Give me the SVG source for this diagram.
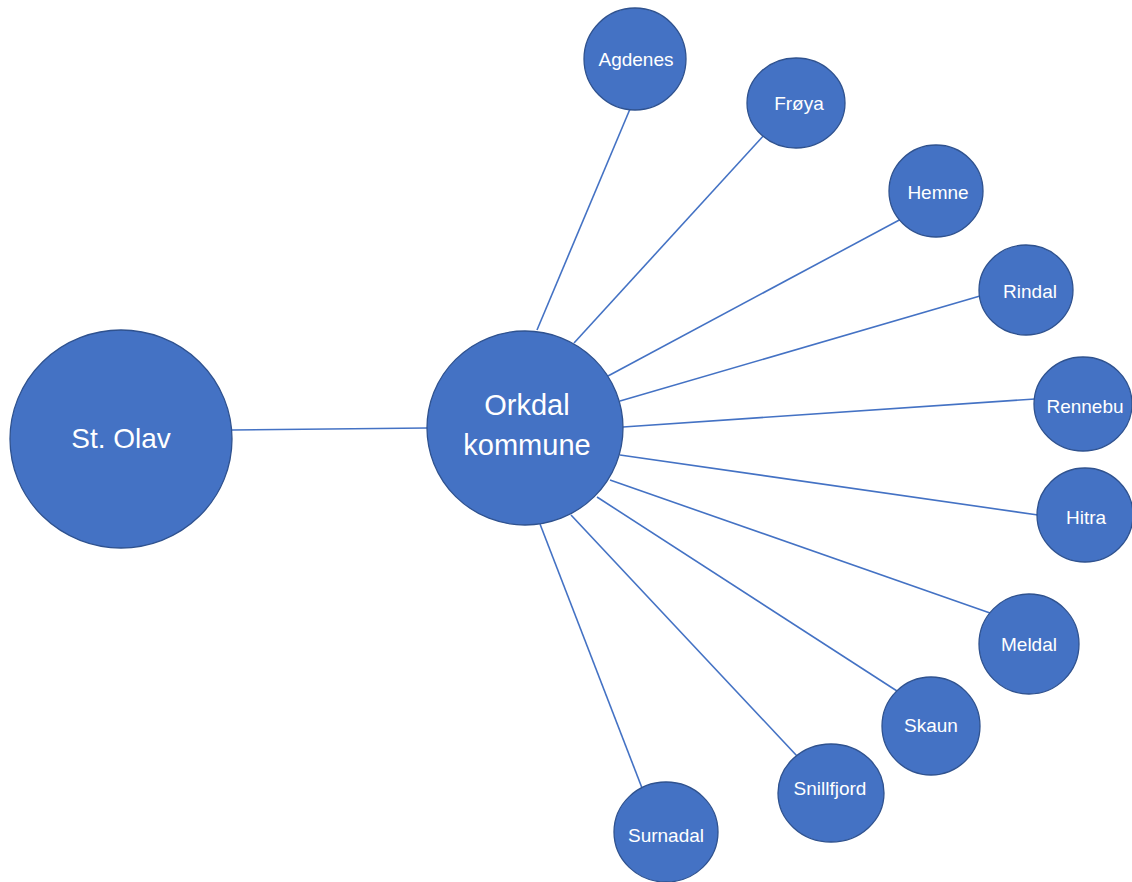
<svg xmlns="http://www.w3.org/2000/svg" width="1132" height="882" viewBox="0 0 1132 882">
<style>
.n{fill:#4472C4;stroke:#2F528F;stroke-width:1.3}
.t{fill:#ffffff;font-family:"Liberation Sans",Arial,sans-serif;text-anchor:middle}
.s{font-size:19px}
.b{font-size:28px}
.e{stroke:#4472C4;stroke-width:1.6;fill:none}
</style>
<rect width="1132" height="882" fill="#ffffff"/>
<g id="connectors">
<line class="e" x1="232" y1="430" x2="427" y2="428"/>
<line class="e" x1="537" y1="330" x2="630" y2="109"/>
<line class="e" x1="574" y1="343" x2="765" y2="134"/>
<line class="e" x1="608" y1="376" x2="903" y2="218"/>
<line class="e" x1="620" y1="401" x2="980" y2="296"/>
<line class="e" x1="623" y1="427" x2="1035" y2="399"/>
<line class="e" x1="620" y1="455" x2="1038" y2="515"/>
<line class="e" x1="610" y1="480" x2="990" y2="613"/>
<line class="e" x1="597" y1="497" x2="897" y2="691"/>
<line class="e" x1="571" y1="515" x2="797" y2="756"/>
<line class="e" x1="540" y1="524" x2="642" y2="788"/>
</g>
<g id="st-olav"><ellipse class="n" cx="121" cy="439" rx="111" ry="109"/><text class="t b" x="121" y="448">St. Olav</text></g>
<g id="orkdal"><ellipse class="n" cx="525" cy="428" rx="98" ry="97"/><text class="t" style="font-size:29px" x="527" y="415">Orkdal</text><text class="t" style="font-size:29px" x="527" y="455">kommune</text></g>
<g id="agdenes"><ellipse class="n" cx="635" cy="59" rx="51" ry="51"/><text class="t s" x="636" y="66">Agdenes</text></g>
<g id="froya"><ellipse class="n" cx="796" cy="103" rx="49" ry="45"/><text class="t s" x="799" y="110">Frøya</text></g>
<g id="hemne"><ellipse class="n" cx="936" cy="191" rx="47" ry="46"/><text class="t s" x="938" y="199">Hemne</text></g>
<g id="rindal"><ellipse class="n" cx="1026" cy="290" rx="47" ry="45"/><text class="t s" x="1030" y="298">Rindal</text></g>
<g id="rennebu"><ellipse class="n" cx="1083" cy="404" rx="49" ry="47"/><text class="t s" x="1085" y="413">Rennebu</text></g>
<g id="hitra"><ellipse class="n" cx="1085" cy="515" rx="48" ry="47"/><text class="t s" x="1086" y="524">Hitra</text></g>
<g id="meldal"><ellipse class="n" cx="1029" cy="644" rx="50" ry="50"/><text class="t s" x="1029" y="651">Meldal</text></g>
<g id="skaun"><ellipse class="n" cx="931" cy="726" rx="49" ry="49"/><text class="t s" x="931" y="732">Skaun</text></g>
<g id="snillfjord"><ellipse class="n" cx="831" cy="793" rx="53" ry="49"/><text class="t s" x="830" y="795">Snillfjord</text></g>
<g id="surnadal"><ellipse class="n" cx="666" cy="832" rx="52" ry="50"/><text class="t s" x="666" y="842">Surnadal</text></g>
</svg>
